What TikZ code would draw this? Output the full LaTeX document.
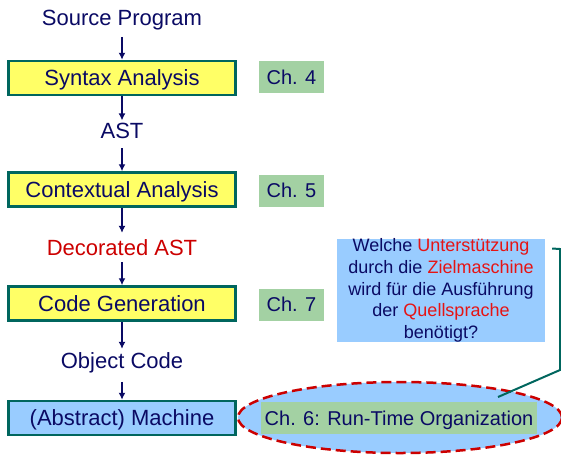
\documentclass[tikz,border=0pt]{standalone}
\usepackage{fontspec}
\setmainfont{Liberation Sans}
\usetikzlibrary{arrows.meta,shapes.geometric,calc}
\definecolor{navy}{RGB}{10,10,100}
\definecolor{boxyellow}{RGB}{255,255,102}
\definecolor{boxteal}{RGB}{0,102,94}
\definecolor{boxblue}{RGB}{153,204,255}
\definecolor{boxgreen}{RGB}{163,209,163}
\definecolor{txtred}{RGB}{230,20,20}
\definecolor{decred}{RGB}{204,0,0}
\tikzset{
  stagebox/.style={draw=boxteal, line width=2.5pt, fill=boxyellow, minimum width=227pt, minimum height=34pt, inner sep=0pt, text height=15.8pt, text depth=0pt, text=navy, font=\fontsize{22}{26}\selectfont},
  machbox/.style={stagebox, fill=boxblue},
  chbox/.style={fill=boxgreen, minimum width=65pt, minimum height=32pt, inner sep=0pt, text height=14.4pt, text depth=0pt, text=navy, font=\fontsize{20}{24}\selectfont},
  lbl/.style={anchor=base, inner sep=0pt, text=navy, font=\fontsize{22}{26}\selectfont},
  flow/.style={draw=navy, line width=2pt, -{Latex[length=7pt,width=7pt]}},
  callout/.style={draw=boxteal, line width=2pt},
}
\begin{document}
\begin{tikzpicture}[x=1pt,y=-1pt]
\useasboundingbox (0,0) rectangle (561,455);
% main column
\node[lbl] (src) at (122,25) {Source Program};
\node[stagebox] (syn) at (122,78) {Syntax Analysis};
\node[lbl] (ast) at (122,138) {AST};
\node[stagebox] (ctx) at (122,189.5) {Contextual Analysis};
\node[lbl, text=decred] (dec) at (122,255) {Decorated AST};
\node[stagebox] (gen) at (122,303.5) {Code Generation};
\node[lbl] (obj) at (122,368) {Object Code};
\node[machbox] (mach) at (122,418) {(Abstract) Machine};
% arrows
\draw[flow] ($(src.south)+(0,7)$) -- (syn.north);
\draw[flow] (syn.south) -- ($(ast.north)+(0,-2)$);
\draw[flow] ($(ast.south)+(0,10)$) -- (ctx.north);
\draw[flow] (ctx.south) -- ($(dec.north)+(0,-6)$);
\draw[flow] ($(dec.south)+(0,7)$) -- (gen.north);
\draw[flow] (gen.south) -- ($(obj.north)+(0,-3)$);
\draw[flow] ($(obj.south)+(0,9)$) -- (mach.north);
% chapter boxes
\node[chbox] (ch4) at (291.5,77) {Ch. 4};
\node[chbox] (ch5) at (291.5,190.5) {Ch. 5};
\node[chbox] (ch7) at (291.5,304.5) {Ch. 7};
% question box
\node[fill=boxblue, minimum width=208pt, minimum height=103pt, inner sep=0pt, align=center, text=navy,
      font=\fontsize{18}{21.7}\selectfont] (q) at (441,290.5)
  {Welche \textcolor{txtred}{Unterstützung}\\durch die \textcolor{txtred}{Zielmaschine}\\wird für die Ausführung\\der \textcolor{txtred}{Quellsprache}\\benötigt?};
% ellipse and ch6
\node[ellipse, draw=decred, line width=2.5pt, dash pattern=on 10pt off 5pt, fill=boxblue,
      minimum width=324pt, minimum height=71pt, inner sep=0pt] (ell) at (400,417.5) {};
\node[chbox, minimum width=276pt] (ch6) at (399,418) {Ch. 6: Run-Time Organization};
% callout connector
\coordinate (c1) at ($(q.north east)+(7,10)$);
\coordinate (c2) at (498,397);
\draw[callout] (c1) -- (560,249) -- (560,370) -- (c2);
\end{tikzpicture}
\end{document}
